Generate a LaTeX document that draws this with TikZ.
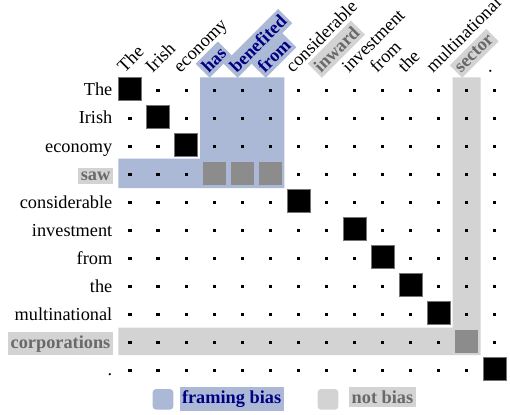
\documentclass[tikz,border=0pt]{standalone}
\usepackage{fontspec}
\setmainfont{Liberation Serif}
\definecolor{bandblue}{RGB}{172,185,214}
\definecolor{bandgray}{RGB}{211,211,211}
\definecolor{cellgray}{RGB}{140,140,140}
\definecolor{navyblue}{RGB}{0,0,128}
\definecolor{dimgr}{RGB}{105,105,105}
\newcommand\marksq[2]{\expandafter\def\csname sq@#1@#2\endcsname{}}
\marksq{0}{0}\marksq{1}{1}\marksq{2}{2}\marksq{4}{6}\marksq{5}{8}\marksq{6}{9}
\marksq{7}{10}\marksq{8}{11}\marksq{10}{13}\marksq{3}{3}\marksq{3}{4}\marksq{3}{5}\marksq{9}{12}
\begin{document}
\begin{tikzpicture}[x=1pt,y=-1pt,
  lbl/.style={font=\fontsize{18.3}{20}\selectfont, inner sep=0pt},
  rowlbl/.style={lbl, anchor=base east},
  collbl/.style={lbl, anchor=base west, rotate=45},
  hlblue/.style={fill=bandblue, text=navyblue, font=\fontsize{18.3}{20}\selectfont\bfseries, inner xsep=2.5pt, inner ysep=3.5pt},
  hlgray/.style={fill=bandgray, text=dimgr, font=\fontsize{18.3}{20}\selectfont\bfseries, inner xsep=2.5pt, inner ysep=3.5pt},
  blk/.style={fill=black, draw=black!55, line width=0.5pt},
  gsq/.style={fill=cellgray},
  legsq/.style={rounded corners=3pt}
]
\useasboundingbox (0,0) rectangle (510,414);

% bands
\fill[bandblue] (200.15,77.3) -- (284.25,77.3) -- (284.25,188) -- (118.3,188) -- (118.3,158.5) -- (200.15,158.5) -- cycle;
\fill[bandgray] (452.6,77.3) -- (480.6,77.3) -- (480.6,355) -- (118.3,355) -- (118.3,327.5) -- (452.6,327.5) -- cycle;

% dots
\foreach \r in {0,...,10}{
  \foreach \c in {0,...,13}{
    \ifcsname sq@\r @\c\endcsname\else
      \pgfmathsetmacro\xx{130+28.05*\c}
      \pgfmathsetmacro\yy{90.7+28*\r}
      \fill (\xx-1.6,\yy-1.6) rectangle (\xx+1.6,\yy+1.6);
    \fi
  }
}

% squares
\foreach \r/\c in {0/0,1/1,2/2,4/6,5/8,6/9,7/10,8/11,10/13}{
  \pgfmathsetmacro\xx{130+28.05*\c}
  \pgfmathsetmacro\yy{89+28*\r}
  \filldraw[blk] (\xx-11.5,\yy-11.5) rectangle (\xx+11.5,\yy+11.5);
}
\foreach \r/\c in {3/3,3/4,3/5,9/12}{
  \pgfmathsetmacro\xx{130+28.05*\c}
  \pgfmathsetmacro\yy{89+28*\r}
  \fill[gsq] (\xx-11.5,\yy-11.5) rectangle (\xx+11.5,\yy+11.5);
}

% row labels
\node[rowlbl] (r0) at (112.5,96) {The};
\node[rowlbl] (r1) at (112.5,124) {Irish};
\node[rowlbl] (r2) at (112.5,152) {economy};
\node[rowlbl,hlgray] (r3) at (113,180) {saw};
\node[rowlbl] (r4) at (112.5,208) {considerable};
\node[rowlbl] (r5) at (112.5,236) {investment};
\node[rowlbl] (r6) at (112.5,264) {from};
\node[rowlbl] (r7) at (112.5,292) {the};
\node[rowlbl] (r8) at (112.5,320) {multinational};
\node[rowlbl,hlgray] (r9) at (113,348) {corporations};
\node[rowlbl] (r10) at (112.5,375) {.};

% column labels
\node[collbl] (c0) at (124.5,73.5) {The};
\node[collbl] (c1) at (152.55,73.5) {Irish};
\node[collbl] (c2) at (180.6,73.5) {economy};
\node[collbl,hlblue] (c3) at (206.9,75.3) {has};
\node[collbl,hlblue] (c4) at (234.9,75.3) {benefited};
\node[collbl,hlblue] (c5) at (263.0,75.3) {from};
\node[collbl] (c6) at (292.8,73.5) {considerable};
\node[collbl,hlgray] (c7) at (319.1,75.3) {inward};
\node[collbl] (c8) at (348.9,73.5) {investment};
\node[collbl] (c9) at (376.95,73.5) {from};
\node[collbl] (c10) at (405,73.5) {the};
\node[collbl] (c11) at (433.05,73.5) {multinational};
\node[collbl,hlgray] (c12) at (459.3,75.3) {sector};
\node[collbl] (c13) at (489.15,73.5) {.};

% legend
\fill[bandblue,legsq] (152.7,389.2) rectangle (173.3,409.5);
\node[hlblue, anchor=base west] (legb) at (179.3,403.4) {framing bias};
\fill[bandgray,legsq] (317.7,389.2) rectangle (338.3,409.5);
\node[hlgray, anchor=base west] (legg) at (349,403.4) {not bias};
\end{tikzpicture}
\end{document}
